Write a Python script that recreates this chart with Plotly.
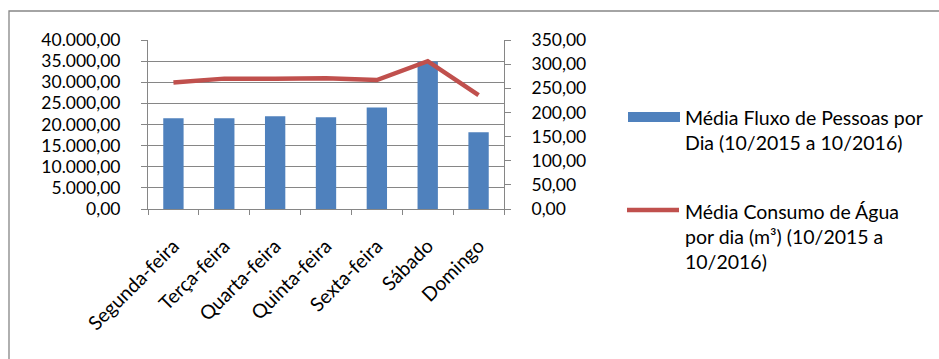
import plotly.graph_objects as go

categorias = ["Segunda-feira", "Terça-feira", "Quarta-feira", "Quinta-feira",
              "Sexta-feira", "Sábado", "Domingo"]
fluxo_pessoas = [21500, 21500, 21950, 21700, 24000, 34900, 18150]
consumo_agua = [262, 270, 270, 271, 267, 306, 236]
nome_fluxo = ["Média Fluxo de Pessoas por", "Dia (10/2015 a 10/2016)"]
nome_agua = ["Média Consumo de Água", "por dia (m³) (10/2015 a", "10/2016)"]

BLUE = "#4F81BD"
RED = "#C0504D"
GRID = "#868686"
FAM = "Lato, Carlito, Calibri, sans-serif"
TICKFONT = dict(family=FAM, size=17.5, color="#000000")
BIGFONT = dict(family=FAM, size=19.5, color="#000000")

fig = go.Figure()
fig.add_trace(go.Bar(x=categorias, y=fluxo_pessoas, marker=dict(color=BLUE, line=dict(width=0)),
                     name=" ".join(nome_fluxo), yaxis="y", showlegend=False))
fig.add_trace(go.Scatter(x=categorias, y=consumo_agua, mode="lines",
                         line=dict(color=RED, width=4.5), name=" ".join(nome_agua),
                         yaxis="y2", showlegend=False))

W, H = 939, 359
L, R, T, B = 148, 504, 40, 209

fig.update_layout(
    width=W, height=H,
    margin=dict(l=L, r=W - R, t=T, b=H - B, pad=0),
    paper_bgcolor="white", plot_bgcolor="white",
    font=TICKFONT,
    separators=",.",
    bargap=0.6,
    xaxis=dict(
        type="category", showgrid=False, showline=True, linecolor=GRID, linewidth=1,
        ticks="outside", tickson="boundaries", ticklen=5, tickcolor=GRID,
        tickangle=-45, tickfont=BIGFONT, ticklabelstandoff=17,
        range=[-0.5, 6.5],
    ),
    yaxis=dict(
        range=[0, 40000], dtick=5000, tickformat=",.2f",
        showgrid=True, gridcolor=GRID, gridwidth=1,
        showline=True, linecolor=GRID, ticks="outside", ticklen=6, tickcolor=GRID,
        tickfont=TICKFONT, zeroline=False, ticklabelstandoff=17,
    ),
    yaxis2=dict(
        range=[0, 350], dtick=50, tickformat=",.2f", overlaying="y", side="right",
        showgrid=False, showline=True, linecolor=GRID, ticks="outside", ticklen=6,
        tickcolor=GRID, tickfont=TICKFONT, zeroline=False, ticklabelstandoff=17,
    ),
)

# chart outer border (cropped at right and bottom)
fig.add_shape(type="rect", xref="paper", yref="paper",
              x0=(9 - L) / (R - L), x1=(W + 5 - L) / (R - L),
              y0=(B - (H + 5)) / (B - T), y1=(B - 11) / (B - T),
              line=dict(color=GRID, width=1.3), layer="below")

def px_x(x):
    return (x - L) / (R - L)

def px_y(y):
    return (B - y) / (B - T)

# legend: bar swatch
fig.add_shape(type="rect", xref="paper", yref="paper",
              x0=px_x(628), x1=px_x(680), y0=px_y(122), y1=px_y(112),
              fillcolor=BLUE, line=dict(width=0))
# legend: line swatch
fig.add_shape(type="line", xref="paper", yref="paper",
              x0=px_x(627), x1=px_x(679), y0=px_y(210), y1=px_y(210),
              line=dict(color=RED, width=4.5))

for i, txt in enumerate(nome_fluxo):
    fig.add_annotation(text=txt, xref="paper", yref="paper", x=px_x(683), y=px_y(117 + 25 * i),
                       xanchor="left", yanchor="middle", showarrow=False, font=BIGFONT)
for i, txt in enumerate(nome_agua):
    fig.add_annotation(text=txt, xref="paper", yref="paper", x=px_x(683), y=px_y(211 + 25 * i),
                       xanchor="left", yanchor="middle", showarrow=False, font=BIGFONT)

fig.write_html("out.html")
